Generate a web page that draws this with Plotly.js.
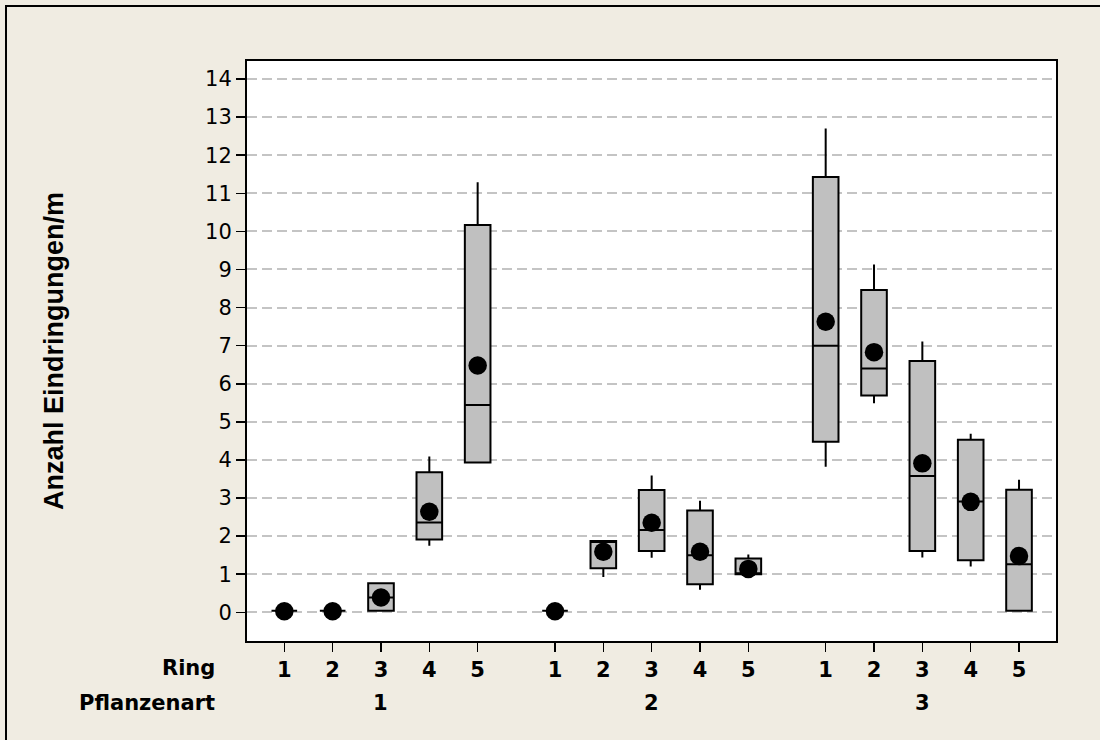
<!DOCTYPE html>
<html>
<head>
<meta charset="utf-8">
<script src="https://cdn.plot.ly/plotly-3.0.1.min.js"></script>
<style>
  html, body { margin: 0; padding: 0; background: #F0ECE2; }
  #chart { width: 1100px; height: 740px; }
</style>
</head>
<body>
<div id="chart"></div>
<script>
// Groups and rings along the x axis
const pflanzenart = ['1', '2', '3'];
const ring = ['1', '2', '3', '4', '5'];

// Box statistics, ordered Pflanzenart 1..3, each with Ring 1..5
const whiskerLow  = [0.04, 0.04, 0.04, 1.75, 3.93,  0.04, 0.93, 1.43, 0.59, 1.00,  3.82, 5.49, 1.44, 1.20, 0.04];
const quartile1   = [0.04, 0.04, 0.04, 1.91, 3.93,  0.04, 1.16, 1.61, 0.74, 1.00,  4.48, 5.69, 1.61, 1.37, 0.04];
const medians     = [0.04, 0.04, 0.39, 2.36, 5.44,  0.04, 1.87, 2.16, 1.50, 1.00,  7.00, 6.40, 3.58, 2.91, 1.26];
const quartile3   = [0.04, 0.04, 0.76, 3.68, 10.17, 0.04, 1.87, 3.21, 2.67, 1.41,  11.43, 8.46, 6.60, 4.53, 3.22];
const whiskerHigh = [0.04, 0.04, 0.78, 4.09, 11.29, 0.04, 1.87, 3.59, 2.93, 1.52,  12.70, 9.13, 7.11, 4.69, 3.48];
const means       = [0.03, 0.03, 0.39, 2.64, 6.48,  0.03, 1.59, 2.35, 1.59, 1.14,  7.63, 6.83, 3.91, 2.90, 1.48];

const yTicks = [0, 1, 2, 3, 4, 5, 6, 7, 8, 9, 10, 11, 12, 13, 14];

// Layout geometry
const W = 1100, H = 740;
const M = { l: 247, r: 44, t: 61, b: 99 };
const groupStep = ring.length + 0.6;   // extra gap between Pflanzenart groups
const plotW = W - M.l - M.r, plotH = H - M.t - M.b;
const pxX = px => (px - M.l) / plotW;
const pxY = py => 1 - (py - M.t) / plotH;

const xPos = [], ringText = [];
pflanzenart.forEach((g, gi) => {
  ring.forEach((r, ri) => {
    xPos.push(gi * groupStep + ri);
    ringText.push(r);
  });
});
const groupCenters = pflanzenart.map((g, gi) => gi * groupStep + (ring.length - 1) / 2);

const boxTrace = {
  type: 'box',
  x: xPos,
  q1: quartile1,
  median: medians,
  q3: quartile3,
  lowerfence: whiskerLow,
  upperfence: whiskerHigh,
  width: 0.53,
  whiskerwidth: 0,
  fillcolor: '#C0C0C0',
  line: { color: '#000000', width: 2 },
  boxpoints: false,
  hoverinfo: 'skip',
  showlegend: false
};

const meanTrace = {
  type: 'scatter',
  mode: 'markers',
  x: xPos,
  y: means,
  marker: { color: '#000000', size: 18.5, line: { width: 0 } },
  hoverinfo: 'skip',
  showlegend: false
};

const labelFont = { family: 'DejaVu Sans', size: 21, color: '#000000', weight: 'bold' };

const annotations = [
  { text: 'Ring', xref: 'paper', yref: 'paper', x: pxX(217), y: pxY(668),
    xanchor: 'right', yanchor: 'middle', showarrow: false, font: labelFont },
  { text: 'Pflanzenart', xref: 'paper', yref: 'paper', x: pxX(217), y: pxY(703),
    xanchor: 'right', yanchor: 'middle', showarrow: false, font: labelFont }
].concat(pflanzenart.map((g, gi) => ({
  text: g, xref: 'x', yref: 'paper', x: groupCenters[gi], y: pxY(703),
  xanchor: 'center', yanchor: 'middle', showarrow: false, font: labelFont
})));

const layout = {
  width: W, height: H,
  margin: M,
  paper_bgcolor: '#F0ECE2',
  plot_bgcolor: '#FFFFFF',
  showlegend: false,
  xaxis: {
    range: [-0.772, 15.965],
    tickmode: 'array',
    tickvals: xPos,
    ticktext: ringText,
    ticks: 'outside', ticklen: 9, tickwidth: 1.5, tickcolor: '#000000',
    tickfont: { family: 'DejaVu Sans', size: 21, color: '#000000', weight: 'bold' },
    showgrid: false, zeroline: false,
    showline: true, linecolor: '#000000', linewidth: 2, mirror: true
  },
  yaxis: {
    range: [-0.753, 14.473],
    tickmode: 'array',
    tickvals: yTicks,
    ticktext: yTicks.map(String),
    ticks: 'outside', ticklen: 9, tickwidth: 1.5, tickcolor: '#000000',
    tickfont: { family: 'DejaVu Sans', size: 21, color: '#000000' },
    showgrid: true, gridcolor: '#C4C4C4', gridwidth: 2, griddash: '10px,5px',
    zeroline: false,
    showline: true, linecolor: '#000000', linewidth: 2, mirror: true,
    title: {
      text: 'Anzahl Eindringungen/m',
      font: { family: 'Liberation Sans', size: 27, color: '#000000', weight: 'bold' },
      standoff: 134
    }
  },
  annotations: annotations,
  shapes: [{
    type: 'rect', xref: 'paper', yref: 'paper',
    x0: pxX(6), x1: pxX(W + 20), y0: pxY(H + 20), y1: pxY(6),
    line: { color: '#000000', width: 2 }, fillcolor: 'rgba(0,0,0,0)', layer: 'below'
  }]
};

Plotly.newPlot('chart', [boxTrace, meanTrace], layout, { staticPlot: true, displayModeBar: false });
</script>
</body>
</html>
